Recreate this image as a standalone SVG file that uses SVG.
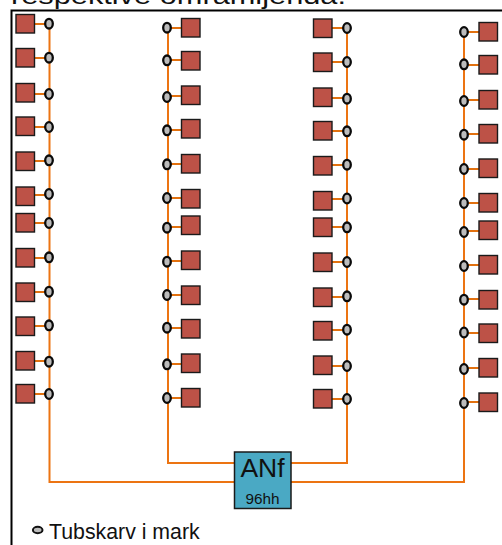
<svg xmlns="http://www.w3.org/2000/svg" width="502" height="545" viewBox="0 0 502 545">
<style>
text{font-family:"Liberation Sans",Arial,sans-serif;fill:#111}
.s{fill:#bd5247;stroke:#1a1a1a;stroke-width:1.4}
.w{fill:none;stroke:#ec7412;stroke-width:2}
.t{fill:none;stroke:#e2710f;stroke-width:2}
.j{fill:#bcbcbc;stroke:#0a0a0a;stroke-width:2.300}
</style>
<rect width="502" height="545" fill="#fff"/>
<text x="11" y="3.500" font-size="24.500" textLength="335" lengthAdjust="spacingAndGlyphs">respektive omramljenda:</text>
<path d="M11.500 545V10.500H502" fill="none" stroke="#000" stroke-width="2"/>
<g id="connectors">
<path class="w" d="M49.500 24V482H234M168 28V463H234M347 28V463H291M464 32V482H291"/>
<path class="t" d="M25 24H49M25 58H49M25 94H49M25 127H49M26 161H49M26 195H49M25 223H49M25 258H49M25 292H49M25 326H49M25 361H49M25 394H49"/>
<path class="t" d="M167 28H191M167 60H191M167 96H191M167 130H191M167 164H191M167 198H191M167 227H190M167 261H190M167 295H192M167 328H192M167 364H192M167 398H192"/>
<path class="t" d="M322 28H347M322 62H347M321 98H347M321 131H347M323 165H347M323 199H347M323 227H347M323 262H347M323 297H347M323 330H347M322 366H347M322 399H347"/>
<path class="t" d="M464 32H489M464 65H489M464 100H489M464 134H489M464 169H488M464 203H488M464 231H488M464 265H488M464 299H490M464 333H490M464 368H489M464 402H489"/>
</g>
<g id="col1-squares">
<rect class="s" x="16" y="14.500" width="18.500" height="18.500"/><rect class="s" x="16" y="48.500" width="18.500" height="18.500"/><rect class="s" x="16" y="83.500" width="18.500" height="18.500"/><rect class="s" x="16" y="117" width="18.500" height="18.500"/><rect class="s" x="16" y="152" width="18.500" height="18.500"/><rect class="s" x="16" y="187" width="18.500" height="18.500"/><rect class="s" x="16" y="213.500" width="18.500" height="18.500"/><rect class="s" x="16" y="248.500" width="18.500" height="18.500"/><rect class="s" x="16" y="283" width="18.500" height="18.500"/><rect class="s" x="16" y="317" width="18.500" height="18.500"/><rect class="s" x="16" y="351.500" width="18.500" height="18.500"/><rect class="s" x="16" y="384.500" width="18.500" height="18.500"/>
</g>
<g id="col2-squares">
<rect class="s" x="181.500" y="18.500" width="18.500" height="18.500"/><rect class="s" x="181.500" y="51.500" width="18.500" height="18.500"/><rect class="s" x="181.500" y="86" width="18.500" height="18.500"/><rect class="s" x="181.500" y="119.500" width="18.500" height="18.500"/><rect class="s" x="181.500" y="154.500" width="18.500" height="18.500"/><rect class="s" x="181.500" y="189.500" width="18.500" height="18.500"/><rect class="s" x="181.500" y="216" width="18.500" height="18.500"/><rect class="s" x="181.500" y="251" width="18.500" height="18.500"/><rect class="s" x="181.500" y="286" width="18.500" height="18.500"/><rect class="s" x="181.500" y="319.500" width="18.500" height="18.500"/><rect class="s" x="181.500" y="354" width="18.500" height="18.500"/><rect class="s" x="181.500" y="388.500" width="18.500" height="18.500"/>
</g>
<g id="col3-squares">
<rect class="s" x="313.500" y="19" width="18.500" height="18.500"/><rect class="s" x="313.500" y="53" width="18.500" height="18.500"/><rect class="s" x="313.500" y="88" width="18.500" height="18.500"/><rect class="s" x="313.500" y="121.500" width="18.500" height="18.500"/><rect class="s" x="313.500" y="156.500" width="18.500" height="18.500"/><rect class="s" x="313.500" y="191.500" width="18.500" height="18.500"/><rect class="s" x="313.500" y="218" width="18.500" height="18.500"/><rect class="s" x="313.500" y="253" width="18.500" height="18.500"/><rect class="s" x="313.500" y="288" width="18.500" height="18.500"/><rect class="s" x="313.500" y="321.500" width="18.500" height="18.500"/><rect class="s" x="313.500" y="356" width="18.500" height="18.500"/><rect class="s" x="313.500" y="389.500" width="18.500" height="18.500"/>
</g>
<g id="col4-squares">
<rect class="s" x="479" y="22.500" width="18.500" height="18.500"/><rect class="s" x="479" y="55.500" width="18.500" height="18.500"/><rect class="s" x="479" y="90.500" width="18.500" height="18.500"/><rect class="s" x="479" y="124.500" width="18.500" height="18.500"/><rect class="s" x="479" y="159" width="18.500" height="18.500"/><rect class="s" x="479" y="193.500" width="18.500" height="18.500"/><rect class="s" x="479" y="221" width="18.500" height="18.500"/><rect class="s" x="479" y="255.500" width="18.500" height="18.500"/><rect class="s" x="479" y="290.500" width="18.500" height="18.500"/><rect class="s" x="479" y="324" width="18.500" height="18.500"/><rect class="s" x="479" y="358.500" width="18.500" height="18.500"/><rect class="s" x="479" y="393" width="18.500" height="18.500"/>
</g>
<g id="col1-joints">
<ellipse class="j" cx="49" cy="23.700" rx="3.800" ry="4.800"/><ellipse class="j" cx="49" cy="57.700" rx="3.800" ry="4.800"/><ellipse class="j" cx="49" cy="94" rx="3.800" ry="4.800"/><ellipse class="j" cx="49" cy="127" rx="3.800" ry="4.800"/><ellipse class="j" cx="49" cy="160.300" rx="3.800" ry="4.800"/><ellipse class="j" cx="49" cy="194" rx="3.800" ry="4.800"/><ellipse class="j" cx="49" cy="223" rx="3.800" ry="4.800"/><ellipse class="j" cx="49" cy="257.300" rx="3.800" ry="4.800"/><ellipse class="j" cx="49" cy="291.700" rx="3.800" ry="4.800"/><ellipse class="j" cx="49" cy="325.300" rx="3.800" ry="4.800"/><ellipse class="j" cx="49" cy="361.700" rx="3.800" ry="4.800"/><ellipse class="j" cx="49" cy="394" rx="3.800" ry="4.800"/>
</g>
<g id="col2-joints">
<ellipse class="j" cx="167" cy="27.700" rx="3.800" ry="4.800"/><ellipse class="j" cx="167" cy="60.300" rx="3.800" ry="4.800"/><ellipse class="j" cx="167" cy="97" rx="3.800" ry="4.800"/><ellipse class="j" cx="167" cy="130.300" rx="3.800" ry="4.800"/><ellipse class="j" cx="167" cy="164.300" rx="3.800" ry="4.800"/><ellipse class="j" cx="167" cy="198" rx="3.800" ry="4.800"/><ellipse class="j" cx="167" cy="227.700" rx="3.800" ry="4.800"/><ellipse class="j" cx="167" cy="261.700" rx="3.800" ry="4.800"/><ellipse class="j" cx="167" cy="295" rx="3.800" ry="4.800"/><ellipse class="j" cx="167" cy="327.700" rx="3.800" ry="4.800"/><ellipse class="j" cx="167" cy="364.300" rx="3.800" ry="4.800"/><ellipse class="j" cx="167" cy="398" rx="3.800" ry="4.800"/>
</g>
<g id="col3-joints">
<ellipse class="j" cx="347" cy="28" rx="3.800" ry="4.800"/><ellipse class="j" cx="347" cy="62" rx="3.800" ry="4.800"/><ellipse class="j" cx="347" cy="98.700" rx="3.800" ry="4.800"/><ellipse class="j" cx="347" cy="131.300" rx="3.800" ry="4.800"/><ellipse class="j" cx="347" cy="164.700" rx="3.800" ry="4.800"/><ellipse class="j" cx="347" cy="198.500" rx="3.800" ry="4.800"/><ellipse class="j" cx="347" cy="227.300" rx="3.800" ry="4.800"/><ellipse class="j" cx="347" cy="262" rx="3.800" ry="4.800"/><ellipse class="j" cx="347" cy="296.300" rx="3.800" ry="4.800"/><ellipse class="j" cx="347" cy="329.700" rx="3.800" ry="4.800"/><ellipse class="j" cx="347" cy="366" rx="3.800" ry="4.800"/><ellipse class="j" cx="347" cy="399" rx="3.800" ry="4.800"/>
</g>
<g id="col4-joints">
<ellipse class="j" cx="464" cy="32" rx="3.800" ry="4.800"/><ellipse class="j" cx="464" cy="64.300" rx="3.800" ry="4.800"/><ellipse class="j" cx="464" cy="101" rx="3.800" ry="4.800"/><ellipse class="j" cx="464" cy="134.700" rx="3.800" ry="4.800"/><ellipse class="j" cx="464" cy="169" rx="3.800" ry="4.800"/><ellipse class="j" cx="464" cy="203" rx="3.800" ry="4.800"/><ellipse class="j" cx="464" cy="232" rx="3.800" ry="4.800"/><ellipse class="j" cx="464" cy="266" rx="3.800" ry="4.800"/><ellipse class="j" cx="464" cy="299.700" rx="3.800" ry="4.800"/><ellipse class="j" cx="464" cy="332.500" rx="3.800" ry="4.800"/><ellipse class="j" cx="464" cy="369" rx="3.800" ry="4.800"/><ellipse class="j" cx="464" cy="403" rx="3.800" ry="4.800"/>
</g>
<g id="anf">
<rect x="234.500" y="452" width="56.500" height="56.500" fill="#4aa9c4" stroke="#1a1a1a" stroke-width="1.500"/>
<text x="262.500" y="476.500" font-size="26.500" text-anchor="middle">ANf</text>
<text x="262.500" y="503.500" font-size="15.300" text-anchor="middle">96hh</text>
</g>
<g id="legend">
<ellipse cx="37.700" cy="530" rx="4.800" ry="3.200" fill="#bcbcbc" stroke="#111" stroke-width="2"/>
<text x="49" y="538.500" font-size="21.300">Tubskarv i mark</text>
</g>
</svg>
